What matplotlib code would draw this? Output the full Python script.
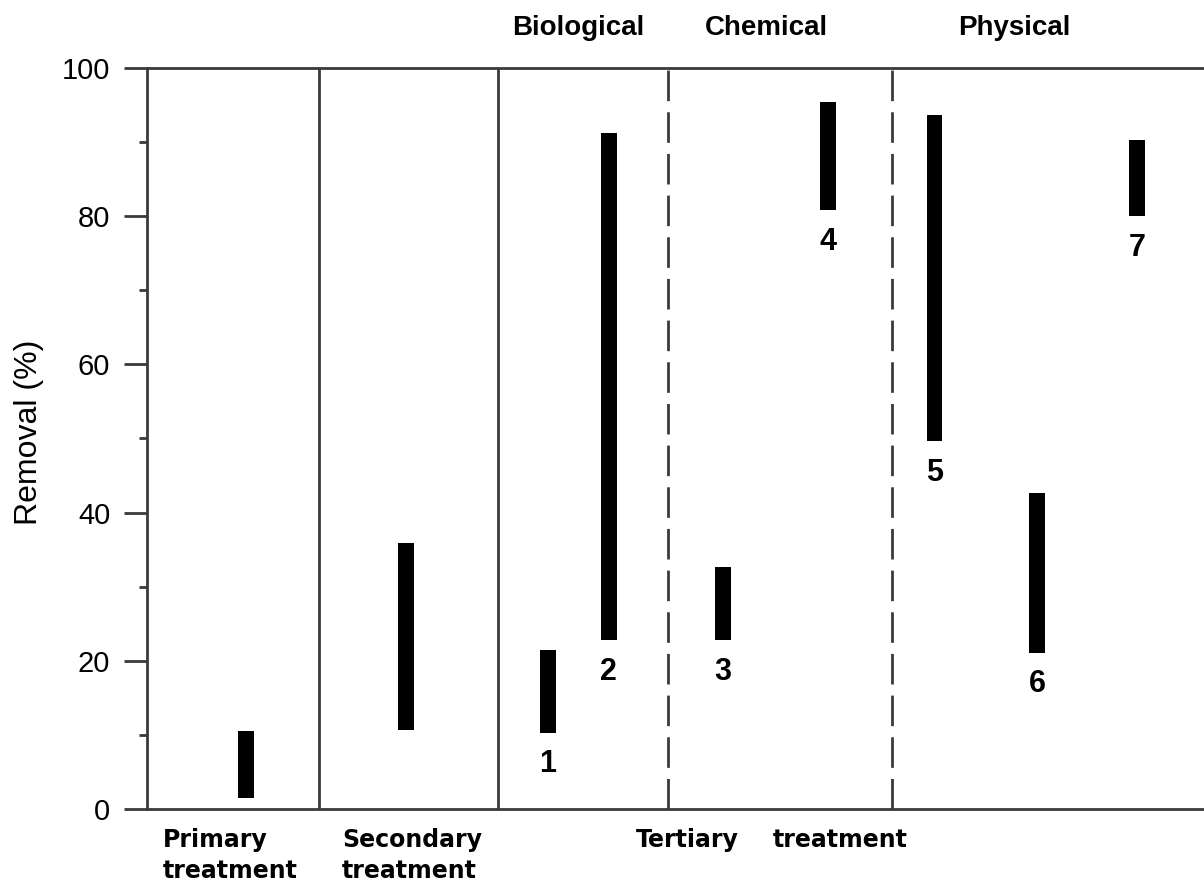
import matplotlib
matplotlib.use("Agg")
import matplotlib.pyplot as plt
from matplotlib.ticker import MultipleLocator

# -----------------------------
# Data (removal ranges, %)
# -----------------------------
bar_names = ["Primary", "Secondary", "1", "2", "3", "4", "5", "6", "7"]
removal_low = [1.5, 10.7, 10.3, 22.8, 22.8, 80.8, 49.6, 21.1, 80.0]
removal_high = [10.5, 35.9, 21.4, 91.2, 32.7, 95.4, 93.6, 42.7, 90.3]
bar_numbers = ["", "", "1", "2", "3", "4", "5", "6", "7"]

group_titles = ["Biological", "Chemical", "Physical"]
y_ticks = [0, 20, 40, 60, 80, 100]

# -----------------------------
# Layout (x positions on a 0-10 axis)
# -----------------------------
bar_x = [0.94, 2.45, 3.79, 4.37, 5.45, 6.44, 7.45, 8.42, 9.37]
solid_sep = [1.63, 3.32]
dashed_sep = [4.93, 7.05]
title_x = [4.08, 5.86, 8.21]

line_col = "#3a3a3a"
sans = ["Liberation Sans", "DejaVu Sans"]

fig = plt.figure(figsize=(12.04, 8.83), dpi=100)
ax = fig.add_axes([147 / 1204, 1 - 809 / 883, 1 - 147 / 1204, 741 / 883])

heights = [h - l for l, h in zip(removal_low, removal_high)]
ax.bar(bar_x, heights, bottom=removal_low, width=0.15, color="black", zorder=3)

for x in solid_sep:
    ax.axvline(x, color=line_col, lw=2.0)
for x in dashed_sep:
    ax.axvline(x, color=line_col, lw=2.0, linestyle=(0, (11, 4)))

# numbers under the bars
for x, lo, lab in zip(bar_x, removal_low, bar_numbers):
    if lab:
        ax.annotate(lab, (x, lo), xytext=(0, -12), textcoords="offset points",
                    ha="center", va="top", fontsize=22, fontweight="bold",
                    family=sans)

# group titles above the frame
for x, t in zip(title_x, group_titles):
    ax.text(x, 1.054, t, transform=ax.get_xaxis_transform(), ha="center",
            va="center", fontsize=20, fontweight="bold", family=sans)

# treatment labels below the frame
bottom_kw = dict(transform=ax.get_xaxis_transform(), ha="left", va="top",
                 fontsize=17, fontweight="bold", family="DejaVu Sans",
                 linespacing=1.4)
ax.text(0.151, -0.025, "Primary\ntreatment", **bottom_kw)
ax.text(1.845, -0.025, "Secondary\ntreatment", **bottom_kw)
ax.text(4.626, -0.025, "Tertiary", **bottom_kw)
ax.text(5.92, -0.025, "treatment", **bottom_kw)

ax.set_xlim(0, 10)
ax.set_ylim(0, 100)
ax.set_yticks(y_ticks)
ax.yaxis.set_minor_locator(MultipleLocator(10))
ax.set_xticks([])
for lab in ax.get_yticklabels():
    lab.set_family(sans)
ax.tick_params(axis="y", which="major", direction="out", length=16.5,
               width=2.0, color=line_col, labelsize=21, pad=10)
ax.tick_params(axis="y", which="minor", direction="out", length=6,
               width=2.0, color=line_col)

for side in ["left", "top", "bottom"]:
    ax.spines[side].set_color(line_col)
    ax.spines[side].set_linewidth(2.0)
ax.spines["right"].set_visible(False)

fig.text(29 / 1204, 1 - 432 / 883, "Removal (%)", rotation=90, ha="center",
         va="center", fontsize=23, family=sans)

fig.savefig("out.png", dpi=100)
plt.close(fig)
